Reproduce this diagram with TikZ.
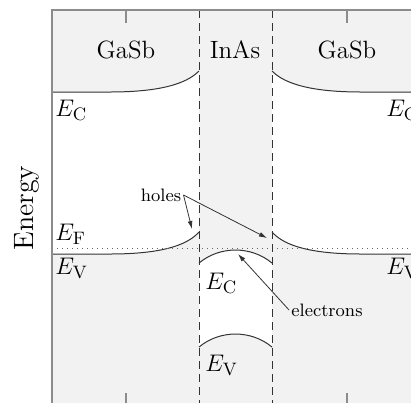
\documentclass[tikz,border=0pt]{standalone}
\usepackage{tikz}
\usetikzlibrary{arrows.meta, positioning}
\usepackage{xcolor}

\definecolor{bandgray}{gray}{0.95}
\definecolor{framegray}{gray}{0.55}

\tikzset{
  band/.style={line width=0.5pt, black!80},
  iface/.style={line width=0.5pt, dash pattern=on 4pt off 2.5pt, black!80},
  lbl/.style={font=\fontsize{12.5}{14}\selectfont, inner sep=0pt},
  note/.style={font=\fontsize{9}{11}\selectfont, inner sep=1pt},
  pointer/.style={line width=0.4pt, black!80, -{Latex[length=4pt, width=2.4pt]}}
}

\begin{document}
\begin{tikzpicture}[x=0.5pt, y=-0.5pt]
  \useasboundingbox (0,0) rectangle (411,403);
  \begin{scope}
  \clip (0,0) rectangle (411,403);

  % shaded regions: GaSb conduction side (top)
  \fill[bandgray] (52,10) -- (199,10) -- (199,71)
    .. controls (190,80) and (170,92) .. (110,92) -- (52,92) -- cycle;
  \fill[bandgray] (272,10) -- (411,10) -- (411,92) -- (361,92)
    .. controls (301,92) and (281,80) .. (272,71) -- cycle;

  % GaSb valence side (bottom)
  \fill[bandgray] (52,254) -- (110,254)
    .. controls (170,254) and (190,242) .. (199,232) -- (199,403) -- (52,403) -- cycle;
  \fill[bandgray] (272,232) .. controls (281,242) and (301,254) .. (361,254)
    -- (411,254) -- (411,403) -- (272,403) -- cycle;

  % InAs column, white gap between its bands
  \fill[bandgray] (199,10) rectangle (272,403);
  \fill[white] (199,263) .. controls (220,245.7) and (251,245.7) .. (272,263)
    -- (272,347) .. controls (251,329.7) and (220,329.7) .. (199,347) -- cycle;

  % band edges
  \draw[band] (52,92) -- (110,92) .. controls (170,92) and (190,80) .. (199,71);
  \draw[band] (272,71) .. controls (281,80) and (301,92) .. (361,92) -- (411,92);
  \draw[band] (52,254) -- (110,254) .. controls (170,254) and (190,242) .. (199,232);
  \draw[band] (272,232) .. controls (281,242) and (301,254) .. (361,254) -- (411,254);
  \draw[band] (199,263) .. controls (220,245.7) and (251,245.7) .. (272,263);
  \draw[band] (199,347) .. controls (220,329.7) and (251,329.7) .. (272,347);

  % Fermi level
  \draw[line width=0.5pt, black!60, dotted] (52,248) -- (411,248);

  % interfaces
  \draw[iface] (199,10) -- (199,403);
  \draw[iface] (272,10) -- (272,403);

  % frame and ticks
  \draw[framegray, line width=0.8pt] (411,10) -- (52,10) -- (52,403);
  \foreach \tx in {126,347} {
    \draw[framegray, line width=0.8pt] (\tx,10) -- (\tx,23);
    \draw[framegray, line width=0.8pt] (\tx,393) -- (\tx,403);
  }

  % labels
  \node[lbl] (gasbL) at (126,50) {GaSb};
  \node[lbl] (inas) at (235,50) {InAs};
  \node[lbl] (gasbR) at (347,50) {GaSb};
  \node[lbl, anchor=west] (ecL) at (55,110) {$E_{\mathrm{C}}$};
  \node[lbl, anchor=west] (ecR) at (386,110) {$E_{\mathrm{C}}$};
  \node[lbl, anchor=west] (ef) at (55,234) {$E_{\mathrm{F}}$};
  \node[lbl, anchor=west] (evL) at (55,268) {$E_{\mathrm{V}}$};
  \node[lbl, anchor=west] (evR) at (386,268) {$E_{\mathrm{V}}$};
  \node[lbl, anchor=west] (ecIn) at (205,283) {$E_{\mathrm{C}}$};
  \node[lbl, anchor=west] (evIn) at (205,365) {$E_{\mathrm{V}}$};
  \node[lbl, rotate=90, font=\fontsize{14}{16}\selectfont] (energy) at (27,208) {Energy};

  % pointers
  \node[note] (holes) at (161,195) {holes};
  \node[note] (electrons) at (327,310) {electrons};
  \coordinate (holeL) at (192,229);
  \coordinate (holeR) at (267,238);
  \coordinate (elec) at (238,254);
  \draw[pointer] (holes.east) -- (holeL);
  \draw[pointer] (holes.east) -- (holeR);
  \draw[pointer] (electrons.west) -- (elec);
  \end{scope}
\end{tikzpicture}
\end{document}
